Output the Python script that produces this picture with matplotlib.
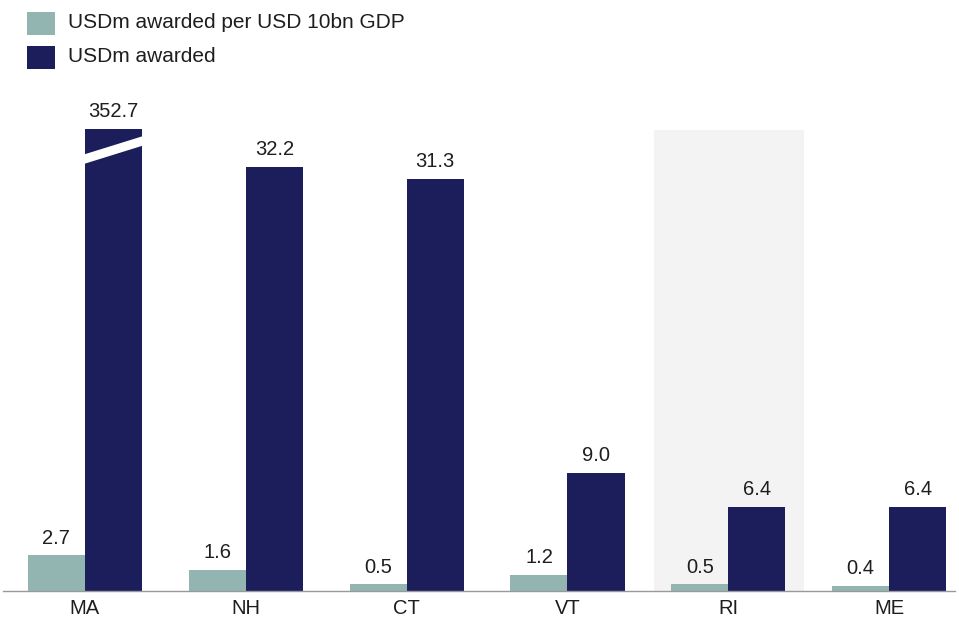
import matplotlib
matplotlib.use("Agg")
import matplotlib.pyplot as plt
from matplotlib.patches import Rectangle, Polygon
import numpy as np

plt.rcParams['font.family'] = ['Liberation Sans', 'DejaVu Sans']

states = ["MA", "NH", "CT", "VT", "RI", "ME"]
per_gdp = [2.7, 1.6, 0.5, 1.2, 0.5, 0.4]
awarded = [352.7, 32.2, 31.3, 9.0, 6.4, 6.4]
highlight = "RI"

teal = "#93b5b2"
navy = "#1c1e5c"
cap = 35.1      # visible height of a bar that runs off the scale
ytop = 37.3

fig = plt.figure(figsize=(9.59, 6.21), dpi=100)
ax = fig.add_axes([0.003, 1 - 591 / 621, 0.993, (591 - 100) / 621])

x = np.arange(len(states))
w = 0.355

hi = states.index(highlight)
ax.axvspan(hi - 0.465, hi + 0.47, ymin=0, ymax=35.0 / ytop, color="#f3f3f3", zorder=0, lw=0)

ax.bar(x - w / 2, per_gdp, width=w, color=teal, zorder=2)
shown = [min(v, cap) for v in awarded]
ax.bar(x + w / 2, shown, width=w, color=navy, zorder=2)

for i, v in enumerate(per_gdp):
    ax.text(x[i] - w / 2, v + 0.6, f"{v:.1f}", ha="center", va="bottom", fontsize=14.5, color="#1e1e1e")
for i, v in enumerate(awarded):
    ax.text(x[i] + w / 2, shown[i] + 0.6, f"{v:.1f}", ha="center", va="bottom", fontsize=14.5, color="#1e1e1e")
    if v > cap:
        # white slash marking the broken bar
        xc = x[i] + w / 2
        y0 = cap - 1.6
        dx = 0.215
        slope = 3.8
        th = 0.36
        pts = [(xc - dx, y0 - slope * dx - th), (xc + dx, y0 + slope * dx - th),
               (xc + dx, y0 + slope * dx + th), (xc - dx, y0 - slope * dx + th)]
        ax.add_patch(Polygon(pts, closed=True, facecolor="white", edgecolor="none", zorder=3))

ax.set_xlim(-0.51, 5.41)
ax.set_ylim(0, ytop)
ax.set_xticks(x)
ax.set_xticklabels(states, fontsize=14.5, color="#1e1e1e")
ax.tick_params(axis="x", length=0, pad=6)
ax.set_yticks([])
for s in ["top", "right", "left"]:
    ax.spines[s].set_visible(False)
ax.spines["bottom"].set_color("#999999")
ax.spines["bottom"].set_linewidth(1.0)

# legend
W, H = 959, 621
for yc, col, lab in [(23, teal, "USDm awarded per USD 10bn GDP"), (57, navy, "USDm awarded")]:
    fig.add_artist(Rectangle((27 / W, 1 - (yc + 11.5) / H), 28 / W, 23 / H,
                             transform=fig.transFigure, facecolor=col, edgecolor="none"))
    fig.text(68 / W, 1 - yc / H, lab, fontsize=15, va="center", ha="left", color="#1e1e1e")

fig.savefig("out.png", dpi=100)
